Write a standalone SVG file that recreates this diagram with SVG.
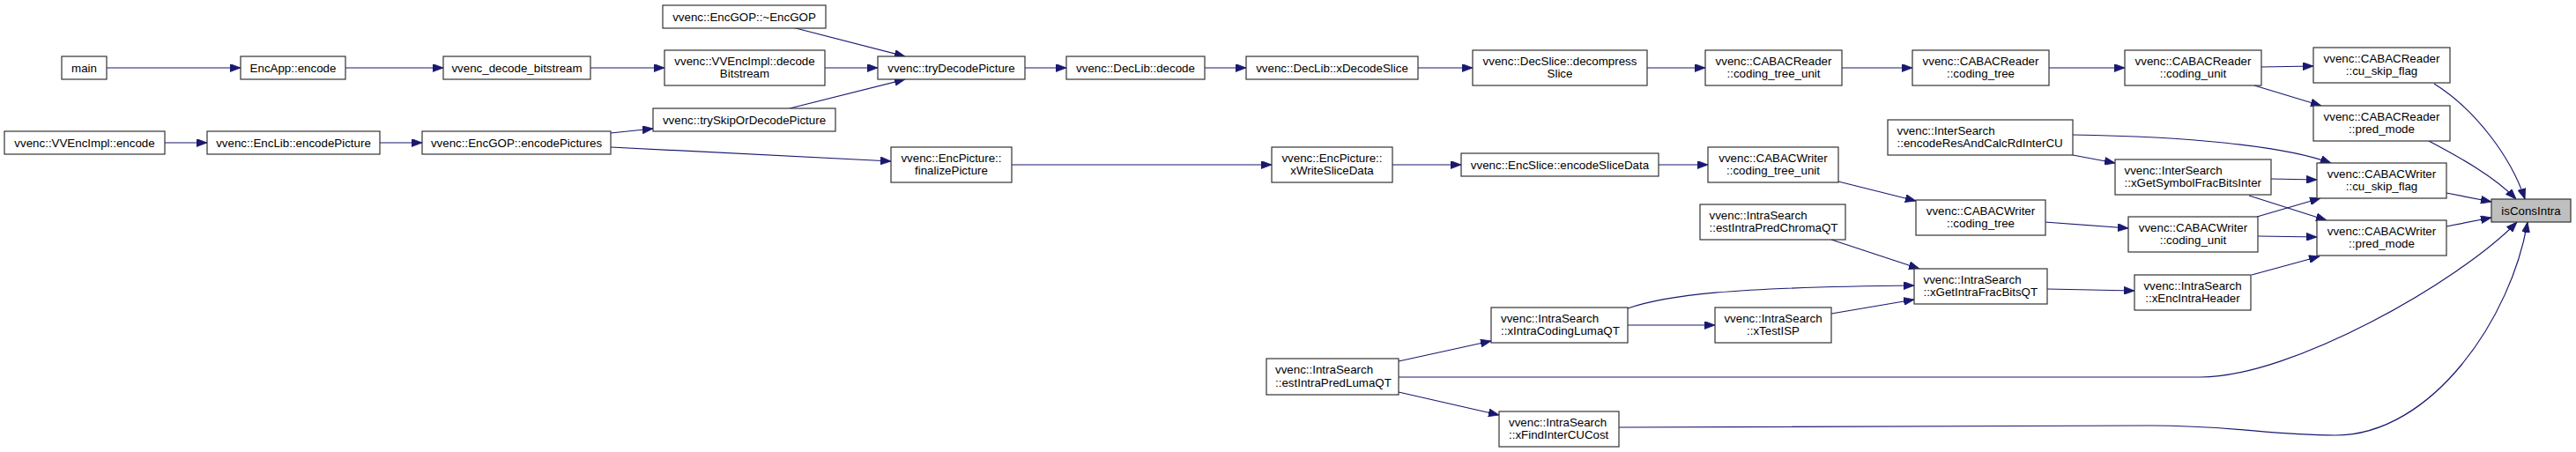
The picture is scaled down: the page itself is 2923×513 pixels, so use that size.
<svg xmlns="http://www.w3.org/2000/svg" width="2923" height="513" viewBox="0 0 2923 513">
<style>
.n rect{fill:#ffffff;stroke:#333333;stroke-width:1.2}
.n.t rect{fill:#bfbfbf}
text{font-family:"Liberation Sans",Arial,Helvetica,sans-serif;font-size:13.33px;fill:#000000}
.c{text-anchor:middle}
.l{text-anchor:start}
.e path{fill:none;stroke:#191970;stroke-width:1.2;marker-end:url(#a)}
</style>
<defs>
<marker id="a" markerUnits="userSpaceOnUse" viewBox="0 0 12 9" markerWidth="12" markerHeight="9" refX="12" refY="4.5" orient="auto">
<path d="M0,0 L12,4.5 L0,9 Z" fill="#191970" stroke="#191970" stroke-width="0.8"/>
</marker>
</defs>
<rect width="2923" height="513" fill="#ffffff"/>
<g id="edges" class="e">
<path d="M121,77 L273,77"/>
<path d="M392,77 L503,77"/>
<path d="M670,77 L754,77"/>
<path d="M936,77 L996,77"/>
<path d="M899,31 L1027,64"/>
<path d="M896,123 L1027,90"/>
<path d="M187,162 L235,162"/>
<path d="M431,162 L479,162"/>
<path d="M693,151 L741,146"/>
<path d="M693,167 L1011,183"/>
<path d="M1163,77 L1210,77"/>
<path d="M1367,77 L1414,77"/>
<path d="M1609,77 L1671,77"/>
<path d="M1869,77 L1935,77"/>
<path d="M2090,77 L2170,77"/>
<path d="M2325,77 L2411,77"/>
<path d="M2566,76 L2625,75"/>
<path d="M2558,97 L2634,120"/>
<path d="M2762,95 C2810,125 2850,180 2865,226"/>
<path d="M2756,160 C2790,178 2830,200 2855,226"/>
<path d="M1148,187 L1443,187"/>
<path d="M1580,187 L1658,187"/>
<path d="M1882,187 L1938,187"/>
<path d="M2086,206 L2174,228"/>
<path d="M2320,252 L2415,259"/>
<path d="M2561,246 L2633,225"/>
<path d="M2562,268 L2629,269"/>
<path d="M2352,153 C2480,155 2590,165 2645,185"/>
<path d="M2352,176 L2400,185"/>
<path d="M2577,203 L2629,204"/>
<path d="M2552,222 L2640,250"/>
<path d="M2776,219 L2827,229"/>
<path d="M2776,257 L2827,247"/>
<path d="M2078,272 L2178,305"/>
<path d="M2323,328 L2422,330"/>
<path d="M2555,312 L2632,291"/>
<path d="M1847,350 C1890,335 1960,326 2172,324"/>
<path d="M1847,369 L1946,369"/>
<path d="M2078,356 L2172,340"/>
<path d="M1587,410 L1692,387"/>
<path d="M1587,445 L1701,471"/>
<path d="M1587,428 L2497,428 C2600,428 2790,320 2856,252"/>
<path d="M1837,485 L2440,483 C2540,483 2570,494 2650,494 C2760,494 2850,360 2868,252"/>
</g>
<g id="main" class="n"><rect x="70" y="64" width="51" height="26"/><text class="c" x="95.5" y="81.5">main</text></g>
<g id="encapp_encode" class="n"><rect x="273" y="64" width="119" height="26"/><text class="c" x="332.5" y="81.5">EncApp::encode</text></g>
<g id="vvenc_decode_bitstream" class="n"><rect x="503" y="64" width="167" height="26"/><text class="c" x="586.5" y="81.5">vvenc_decode_bitstream</text></g>
<g id="vvencimpl_decodebitstream" class="n"><rect x="754" y="57" width="182" height="40"/><text class="c" x="845" y="73.5">vvenc::VVEncImpl::decode</text><text class="c" x="845" y="88">Bitstream</text></g>
<g id="encgop_dtor" class="n"><rect x="752" y="6" width="185" height="26"/><text class="c" x="844.5" y="23.5">vvenc::EncGOP::~EncGOP</text></g>
<g id="tryskipordecodepicture" class="n"><rect x="741" y="123" width="207" height="26"/><text class="c" x="844.5" y="140.5">vvenc::trySkipOrDecodePicture</text></g>
<g id="vvencimpl_encode" class="n"><rect x="5" y="149" width="182" height="26"/><text class="c" x="96" y="166.5">vvenc::VVEncImpl::encode</text></g>
<g id="enclib_encodepicture" class="n"><rect x="235" y="149" width="196" height="26"/><text class="c" x="333" y="166.5">vvenc::EncLib::encodePicture</text></g>
<g id="encgop_encodepictures" class="n"><rect x="479" y="149" width="214" height="26"/><text class="c" x="586" y="166.5">vvenc::EncGOP::encodePictures</text></g>
<g id="trydecodepicture" class="n"><rect x="996" y="64" width="167" height="26"/><text class="c" x="1079.5" y="81.5">vvenc::tryDecodePicture</text></g>
<g id="declib_decode" class="n"><rect x="1210" y="64" width="157" height="26"/><text class="c" x="1288.5" y="81.5">vvenc::DecLib::decode</text></g>
<g id="declib_xdecodeslice" class="n"><rect x="1414" y="64" width="195" height="26"/><text class="c" x="1511.5" y="81.5">vvenc::DecLib::xDecodeSlice</text></g>
<g id="decslice_decompressslice" class="n"><rect x="1671" y="57" width="198" height="40"/><text class="c" x="1770" y="73.5">vvenc::DecSlice::decompress</text><text class="c" x="1770" y="88">Slice</text></g>
<g id="cabacreader_coding_tree_unit" class="n"><rect x="1935" y="57" width="155" height="40"/><text class="c" x="2012.5" y="73.5">vvenc::CABACReader</text><text class="c" x="2012.5" y="88">::coding_tree_unit</text></g>
<g id="cabacreader_coding_tree" class="n"><rect x="2170" y="57" width="155" height="40"/><text class="c" x="2247.5" y="73.5">vvenc::CABACReader</text><text class="c" x="2247.5" y="88">::coding_tree</text></g>
<g id="cabacreader_coding_unit" class="n"><rect x="2411" y="57" width="155" height="40"/><text class="c" x="2488.5" y="73.5">vvenc::CABACReader</text><text class="c" x="2488.5" y="88">::coding_unit</text></g>
<g id="cabacreader_cu_skip_flag" class="n"><rect x="2625" y="54" width="155" height="40"/><text class="c" x="2702.5" y="70.5">vvenc::CABACReader</text><text class="c" x="2702.5" y="85">::cu_skip_flag</text></g>
<g id="cabacreader_pred_mode" class="n"><rect x="2625" y="120" width="155" height="40"/><text class="c" x="2702.5" y="136.5">vvenc::CABACReader</text><text class="c" x="2702.5" y="151">::pred_mode</text></g>
<g id="encpicture_finalizepicture" class="n"><rect x="1011" y="167" width="137" height="40"/><text class="c" x="1079.5" y="183.5">vvenc::EncPicture::</text><text class="c" x="1079.5" y="198">finalizePicture</text></g>
<g id="encpicture_xwriteslicedata" class="n"><rect x="1443" y="167" width="137" height="40"/><text class="c" x="1511.5" y="183.5">vvenc::EncPicture::</text><text class="c" x="1511.5" y="198">xWriteSliceData</text></g>
<g id="encslice_encodeslicedata" class="n"><rect x="1658" y="174" width="224" height="26"/><text class="c" x="1770" y="191.5">vvenc::EncSlice::encodeSliceData</text></g>
<g id="cabacwriter_coding_tree_unit" class="n"><rect x="1938" y="167" width="148" height="40"/><text class="c" x="2012" y="183.5">vvenc::CABACWriter</text><text class="c" x="2012" y="198">::coding_tree_unit</text></g>
<g id="intersearch_encoderesandcalcrdintercu" class="n"><rect x="2142" y="136" width="210" height="40"/><text class="l" x="2152.5" y="152.5">vvenc::InterSearch</text><text class="l" x="2152.5" y="167">::encodeResAndCalcRdInterCU</text></g>
<g id="intersearch_xgetsymbolfracbitsinter" class="n"><rect x="2400" y="181" width="177" height="40"/><text class="l" x="2410.5" y="197.5">vvenc::InterSearch</text><text class="l" x="2410.5" y="212">::xGetSymbolFracBitsInter</text></g>
<g id="cabacwriter_cu_skip_flag" class="n"><rect x="2629" y="185" width="147" height="40"/><text class="c" x="2702.5" y="201.5">vvenc::CABACWriter</text><text class="c" x="2702.5" y="216">::cu_skip_flag</text></g>
<g id="intrasearch_estintrapredchromaqt" class="n"><rect x="1929" y="232" width="165" height="40"/><text class="l" x="1939.5" y="248.5">vvenc::IntraSearch</text><text class="l" x="1939.5" y="263">::estIntraPredChromaQT</text></g>
<g id="cabacwriter_coding_tree" class="n"><rect x="2174" y="227" width="147" height="40"/><text class="c" x="2247.5" y="243.5">vvenc::CABACWriter</text><text class="c" x="2247.5" y="258">::coding_tree</text></g>
<g id="cabacwriter_coding_unit" class="n"><rect x="2415" y="246" width="147" height="40"/><text class="c" x="2488.5" y="262.5">vvenc::CABACWriter</text><text class="c" x="2488.5" y="277">::coding_unit</text></g>
<g id="cabacwriter_pred_mode" class="n"><rect x="2629" y="250" width="147" height="40"/><text class="c" x="2702.5" y="266.5">vvenc::CABACWriter</text><text class="c" x="2702.5" y="281">::pred_mode</text></g>
<g id="isconsintra" class="n t"><rect x="2827" y="226" width="90" height="26"/><text class="c" x="2872" y="243.5">isConsIntra</text></g>
<g id="intrasearch_xgetintrafracbitsqt" class="n"><rect x="2172" y="305" width="151" height="40"/><text class="l" x="2182.5" y="321.5">vvenc::IntraSearch</text><text class="l" x="2182.5" y="336">::xGetIntraFracBitsQT</text></g>
<g id="intrasearch_xencintraheader" class="n"><rect x="2422" y="312" width="132" height="40"/><text class="c" x="2488" y="328.5">vvenc::IntraSearch</text><text class="c" x="2488" y="343">::xEncIntraHeader</text></g>
<g id="intrasearch_xtestisp" class="n"><rect x="1946" y="349" width="132" height="40"/><text class="c" x="2012" y="365.5">vvenc::IntraSearch</text><text class="c" x="2012" y="380">::xTestISP</text></g>
<g id="intrasearch_xintracodinglumaqt" class="n"><rect x="1692" y="349" width="155" height="40"/><text class="l" x="1703" y="365.5">vvenc::IntraSearch</text><text class="l" x="1703" y="380">::xIntraCodingLumaQT</text></g>
<g id="intrasearch_estintrapredlumaqt" class="n"><rect x="1437" y="407" width="150" height="41"/><text class="l" x="1447" y="424">vvenc::IntraSearch</text><text class="l" x="1447" y="438.5">::estIntraPredLumaQT</text></g>
<g id="intrasearch_xfindintercucost" class="n"><rect x="1701" y="467" width="136" height="40"/><text class="l" x="1712" y="483.5">vvenc::IntraSearch</text><text class="l" x="1712" y="498">::xFindInterCUCost</text></g>
</svg>
